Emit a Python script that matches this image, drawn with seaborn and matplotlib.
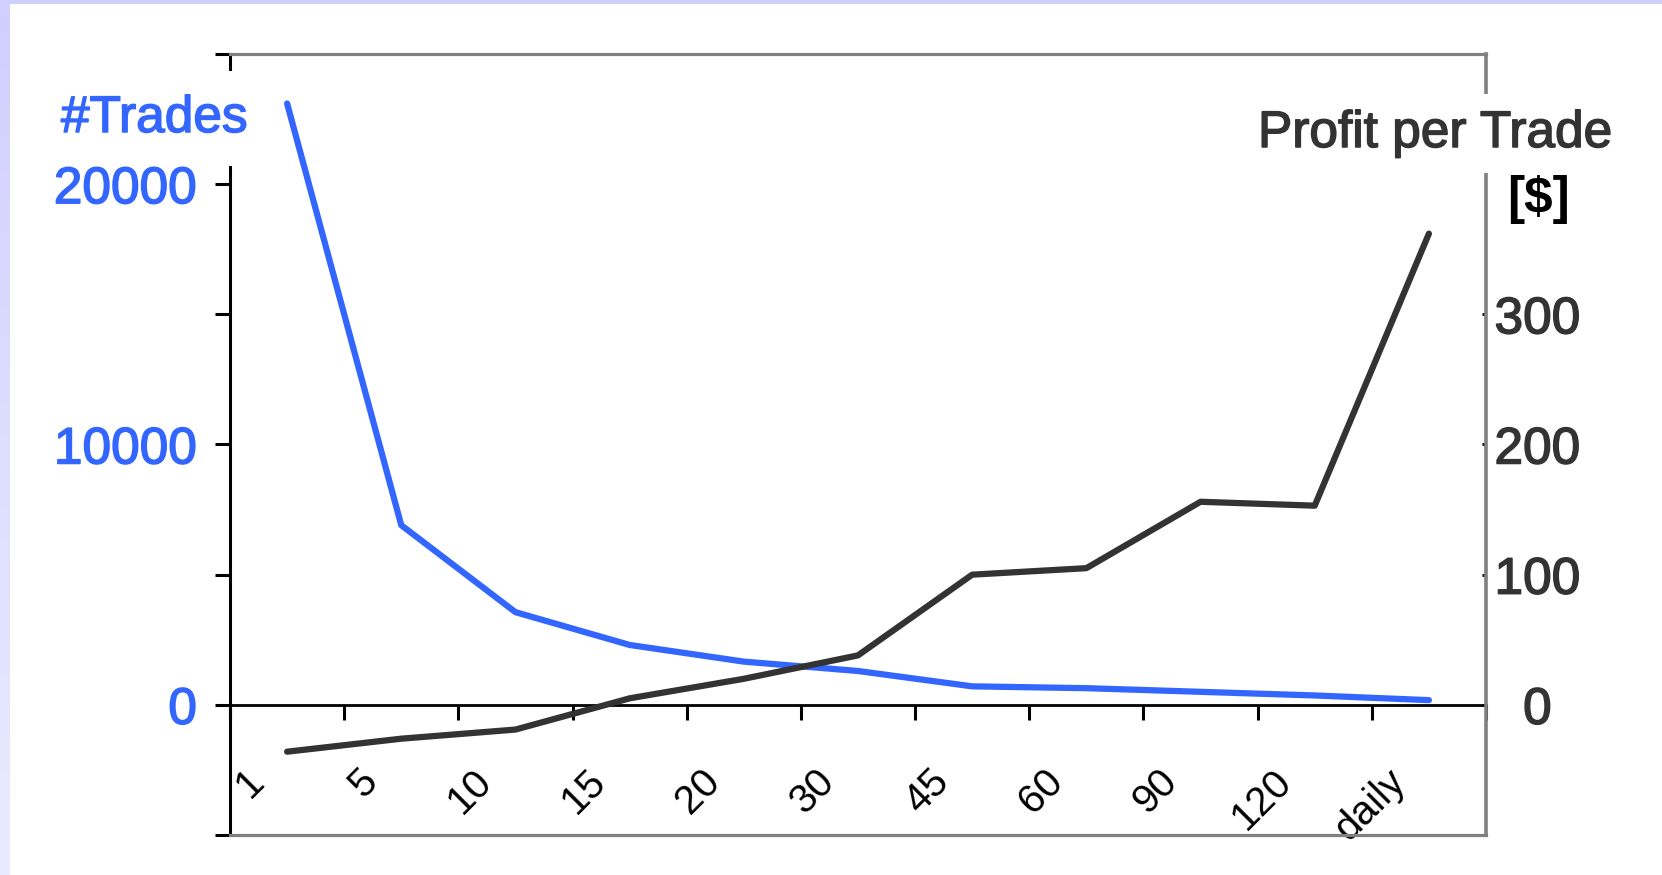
import numpy as np
import pandas as pd
import matplotlib
matplotlib.use("Agg")
import matplotlib.pyplot as plt
import matplotlib.patheffects as pe
from matplotlib.patches import Rectangle
from matplotlib.colors import LinearSegmentedColormap
import seaborn as sns

# holding periods and the two series
periods = ['1', '5', '10', '15', '20', '30', '45', '60', '90', '120', 'daily']
n_trades = [23100, 6900, 3560, 2300, 1660, 1300, 710, 640, 500, 360, 180]
profit_per_trade = [-36, -26, -19, 5, 20, 38, 100, 105, 156, 153, 362]

# axis ticks
trades_ticks = [0, 10000, 20000]
trades_tick_labels = ['0', '10000', '20000']
trades_minor = [-5000, 5000, 15000, 25000]
profit_ticks = [0, 100, 200, 300]
profit_tick_labels = ['0', '100', '200', '300']

df = pd.DataFrame({'period': periods, 'trades': n_trades, 'profit': profit_per_trade})
df['pos'] = np.arange(len(df))

blue = '#3366ff'
dark = '#333333'
grey = '#808080'

sns.set_style('ticks')
plt.rcParams['font.family'] = ['Liberation Sans', 'DejaVu Sans']


def heavy(color, w=1.1):
    # old bitmap-rendered text looks heavier than a plain outline font
    return [pe.withStroke(linewidth=w, foreground=color)]


W, H = 1662, 875
fig = plt.figure(figsize=(W / 100, H / 100), dpi=100, facecolor='white')

# lavender frame (top strip + left strip with a soft gradient)
fig.add_artist(Rectangle((0, 1 - 4 / H), 1, 4 / H, transform=fig.transFigure,
                         facecolor='#d0d0ff', edgecolor='none', zorder=-5))
strip = fig.add_axes([0, 0, 10 / W, 1], zorder=-5)
strip.imshow(np.linspace(0, 1, 200).reshape(-1, 1), aspect='auto',
             cmap=LinearSegmentedColormap.from_list('lav', ['#d0d0ff', '#eaeaff']))
strip.axis('off')

ax = fig.add_axes([230 / W, 40 / H, 1256 / W, 781 / H])
ax2 = ax.twinx()

sns.lineplot(data=df, x='pos', y='trades', ax=ax, color=blue, linewidth=4.5)
sns.lineplot(data=df, x='pos', y='profit', ax=ax2, color=dark, linewidth=4.5)

ax.set_xlim(-0.5, len(periods) - 0.5)
ax.set_ylim(-5000, 25000)
ax2.set_ylim(-100, 500)
ax.set_xlabel('')
ax.set_ylabel('')
ax2.set_ylabel('')

# spines: black left axis and zero line, grey frame elsewhere
ax.spines['left'].set_color('black')
ax.spines['left'].set_linewidth(2.2)
ax.spines['bottom'].set_position(('data', 0))
ax.spines['bottom'].set_color('black')
ax.spines['bottom'].set_linewidth(2)
ax.spines['top'].set_visible(True)
ax.spines['top'].set_color(grey)
ax.spines['top'].set_linewidth(2.3)
ax.spines['right'].set_visible(False)
ax2.spines['left'].set_visible(False)
ax2.spines['top'].set_visible(False)
ax2.spines['right'].set_color(grey)
ax2.spines['right'].set_linewidth(2.6)
ax2.spines['bottom'].set_visible(True)
ax2.spines['bottom'].set_color(grey)
ax2.spines['bottom'].set_linewidth(2.3)

# category boundary ticks hanging from the zero line
ax.set_xticks(np.arange(-0.5, len(periods), 1), labels=[''] * (len(periods) + 1))
ax.tick_params(axis='x', direction='out', length=11, width=2.2, color='black')

ax.set_yticks(trades_ticks, labels=trades_tick_labels)
ax.set_yticks(trades_minor, minor=True)
ax.tick_params(axis='y', which='both', direction='out', length=10.8, width=2.2,
               color='black', labelsize=37, labelcolor=blue, pad=13)
for lab in ax.get_yticklabels():
    lab.set_path_effects(heavy(blue))

ax2.set_yticks(profit_ticks, labels=profit_tick_labels)
ax2.tick_params(axis='y', direction='in', length=3, width=2, color='black',
                labelsize=37, labelcolor=dark, pad=37)
for lab in ax2.get_yticklabels():
    lab.set_horizontalalignment('center')
    lab.set_path_effects(heavy(dark))

# rotated period labels under the zero line
for i, p in enumerate(periods):
    ax.text(i - 0.14, -2200, p, rotation=45, ha='right', va='top',
            fontsize=29, color='black')

# axis titles (white boxes break the frame lines like the original)
fig.text(61 / W, 1 - 132 / H, '#Trades', color=blue, fontsize=37,
         ha='left', va='baseline', path_effects=heavy(blue),
         bbox=dict(boxstyle='square,pad=0.45', fc='white', ec='none'))
fig.text(1258 / W, 1 - 147 / H, 'Profit per Trade', color=dark, fontsize=37,
         ha='left', va='baseline', path_effects=heavy(dark),
         bbox=dict(boxstyle='square,pad=0.3', fc='white', ec='none'))
fig.text(1539 / W, 1 - 200 / H, '[\\$]', color='black', fontsize=37,
         fontweight='bold', ha='center', va='center')

fig.savefig('out.png', dpi=100)
